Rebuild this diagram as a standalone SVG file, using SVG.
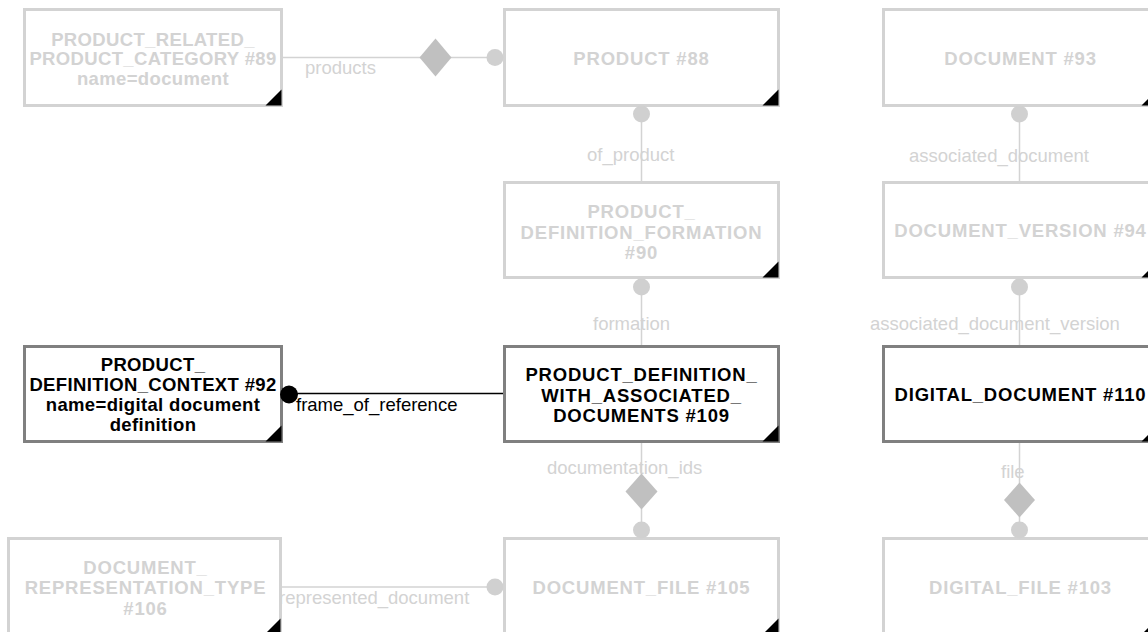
<svg xmlns="http://www.w3.org/2000/svg" width="1148" height="632" viewBox="0 0 1148 632">
<style>
.box{fill:#fff;stroke:#d3d3d3;stroke-width:3}
.box.on{stroke:#808080}
.lbl{font-family:"Liberation Sans",Arial,sans-serif;font-weight:bold;font-size:18.5px;letter-spacing:0.8px;fill:#d3d3d3;text-anchor:middle}
.lbl.tight{letter-spacing:0.35px}
.lbl.on{fill:#000}
.corner{fill:#000}
.edge{stroke:#d3d3d3;stroke-width:1.5;fill:none}
.edge.on{stroke:#000}
.elbl{font-family:"Liberation Sans",Arial,sans-serif;font-size:18.5px;fill:#d3d3d3}
.elbl.on{fill:#000}
.dot{fill:#d0d0d0}
.dot.on{fill:#000}
.dia{fill:#c0c0c0}
</style>
<rect width="1148" height="632" fill="#fff"/>
<g id="connectors">
  <line class="edge" x1="283" y1="57.5" x2="503" y2="57.5"/>
  <text class="elbl" x="305" y="73.5">products</text>
  <line class="edge" x1="641.5" y1="107" x2="641.5" y2="181"/>
  <text class="elbl" x="587" y="160.5">of_product</text>
  <line class="edge" x1="641.5" y1="279" x2="641.5" y2="345"/>
  <text class="elbl" x="593" y="330">formation</text>
  <line class="edge on" x1="283" y1="393.5" x2="503" y2="393.5"/>
  <text class="elbl on" x="296" y="411">frame_of_reference</text>
  <line class="edge" x1="641.5" y1="443" x2="641.5" y2="537"/>
  <text class="elbl" x="547" y="473.5">documentation_ids</text>
  <line class="edge" x1="282" y1="587" x2="503" y2="587"/>
  <text class="elbl" x="279" y="604">represented_document</text>
  <line class="edge" x1="1019.5" y1="107" x2="1019.5" y2="181"/>
  <text class="elbl" x="909" y="161.5">associated_document</text>
  <line class="edge" x1="1019.5" y1="279" x2="1019.5" y2="345"/>
  <text class="elbl" x="870" y="330">associated_document_version</text>
  <line class="edge" x1="1019.5" y1="443" x2="1019.5" y2="537"/>
  <text class="elbl" x="1001" y="478">file</text>
</g>
<g id="n89">
  <rect class="box" x="24.5" y="9.5" width="257" height="96"/>
  <text class="lbl tight"><tspan x="153" y="45.5">PRODUCT_RELATED_</tspan><tspan x="153" y="65">PRODUCT_CATEGORY #89</tspan><tspan x="153" y="84.5">name=document</tspan></text>
  <polygon class="corner" points="265.5,105.5 281.5,89.5 281.5,105.5"/>
</g>
<g id="n88">
  <rect class="box" x="504.5" y="9.5" width="274" height="96"/>
  <text class="lbl" x="641.5" y="64.5">PRODUCT #88</text>
  <polygon class="corner" points="762.5,105.5 778.5,89.5 778.5,105.5"/>
</g>
<g id="n93">
  <rect class="box" x="883.5" y="9.5" width="274" height="96"/>
  <text class="lbl" x="1020.5" y="64.5">DOCUMENT #93</text>
  <polygon class="corner" points="1141.5,105.5 1157.5,89.5 1157.5,105.5"/>
</g>
<g id="n90">
  <rect class="box" x="504.5" y="182.5" width="274" height="95"/>
  <text class="lbl"><tspan x="641.5" y="218">PRODUCT_</tspan><tspan x="641.5" y="238.5">DEFINITION_FORMATION</tspan><tspan x="641.5" y="259">#90</tspan></text>
  <polygon class="corner" points="762.5,277.5 778.5,261.5 778.5,277.5"/>
</g>
<g id="n94">
  <rect class="box" x="883.5" y="182.5" width="274" height="95"/>
  <text class="lbl" x="1020.5" y="237">DOCUMENT_VERSION #94</text>
  <polygon class="corner" points="1141.5,277.5 1157.5,261.5 1157.5,277.5"/>
</g>
<g id="n92">
  <rect class="box on" x="24.5" y="346.5" width="257" height="95"/>
  <text class="lbl on tight"><tspan x="153" y="370.5">PRODUCT_</tspan><tspan x="153" y="390.5">DEFINITION_CONTEXT #92</tspan><tspan x="153" y="410.5">name=digital document</tspan><tspan x="153" y="430.5">definition</tspan></text>
  <polygon class="corner" points="265.5,441.5 281.5,425.5 281.5,441.5"/>
</g>
<g id="n109">
  <rect class="box on" x="504.5" y="346.5" width="274" height="95"/>
  <text class="lbl on"><tspan x="641.5" y="381">PRODUCT_DEFINITION_</tspan><tspan x="641.5" y="401.5">WITH_ASSOCIATED_</tspan><tspan x="641.5" y="422">DOCUMENTS #109</tspan></text>
  <polygon class="corner" points="762.5,441.5 778.5,425.5 778.5,441.5"/>
</g>
<g id="n110">
  <rect class="box on" x="883.5" y="346.5" width="274" height="95"/>
  <text class="lbl on" x="1020.5" y="401">DIGITAL_DOCUMENT #110</text>
  <polygon class="corner" points="1141.5,441.5 1157.5,425.5 1157.5,441.5"/>
</g>
<g id="n106">
  <rect class="box" x="8.5" y="538.5" width="272" height="96"/>
  <text class="lbl"><tspan x="145.5" y="573.5">DOCUMENT_</tspan><tspan x="145.5" y="594">REPRESENTATION_TYPE</tspan><tspan x="145.5" y="614.5">#106</tspan></text>
  <polygon class="corner" points="264.5,634.5 280.5,618.5 280.5,634.5"/>
</g>
<g id="n105">
  <rect class="box" x="504.5" y="538.5" width="274" height="96"/>
  <text class="lbl" x="641.5" y="594">DOCUMENT_FILE #105</text>
  <polygon class="corner" points="762.5,634.5 778.5,618.5 778.5,634.5"/>
</g>
<g id="n103">
  <rect class="box" x="883.5" y="538.5" width="274" height="96"/>
  <text class="lbl" x="1020.5" y="594">DIGITAL_FILE #103</text>
  <polygon class="corner" points="1141.5,634.5 1157.5,618.5 1157.5,634.5"/>
</g>
<g id="connector-ends">
  <polygon class="dia" points="435.5,38.5 451.5,57.5 435.5,76.5 419.5,57.5"/>
  <circle class="dot" cx="495" cy="57.5" r="8.5"/>
  <circle class="dot" cx="641.5" cy="114" r="8.5"/>
  <circle class="dot" cx="641.5" cy="287" r="8.5"/>
  <circle class="dot on" cx="289" cy="394.5" r="9"/>
  <polygon class="dia" points="641.5,473.5 657.5,491.5 641.5,509.5 625.5,491.5"/>
  <circle class="dot" cx="641.5" cy="530" r="8.5"/>
  <circle class="dot" cx="495" cy="587" r="8.5"/>
  <circle class="dot" cx="1019.5" cy="114" r="8.5"/>
  <circle class="dot" cx="1019.5" cy="287" r="8.5"/>
  <polygon class="dia" points="1019.5,482.5 1035,500 1019.5,517.5 1004,500"/>
  <circle class="dot" cx="1019.5" cy="530" r="8.5"/>
</g>
</svg>
